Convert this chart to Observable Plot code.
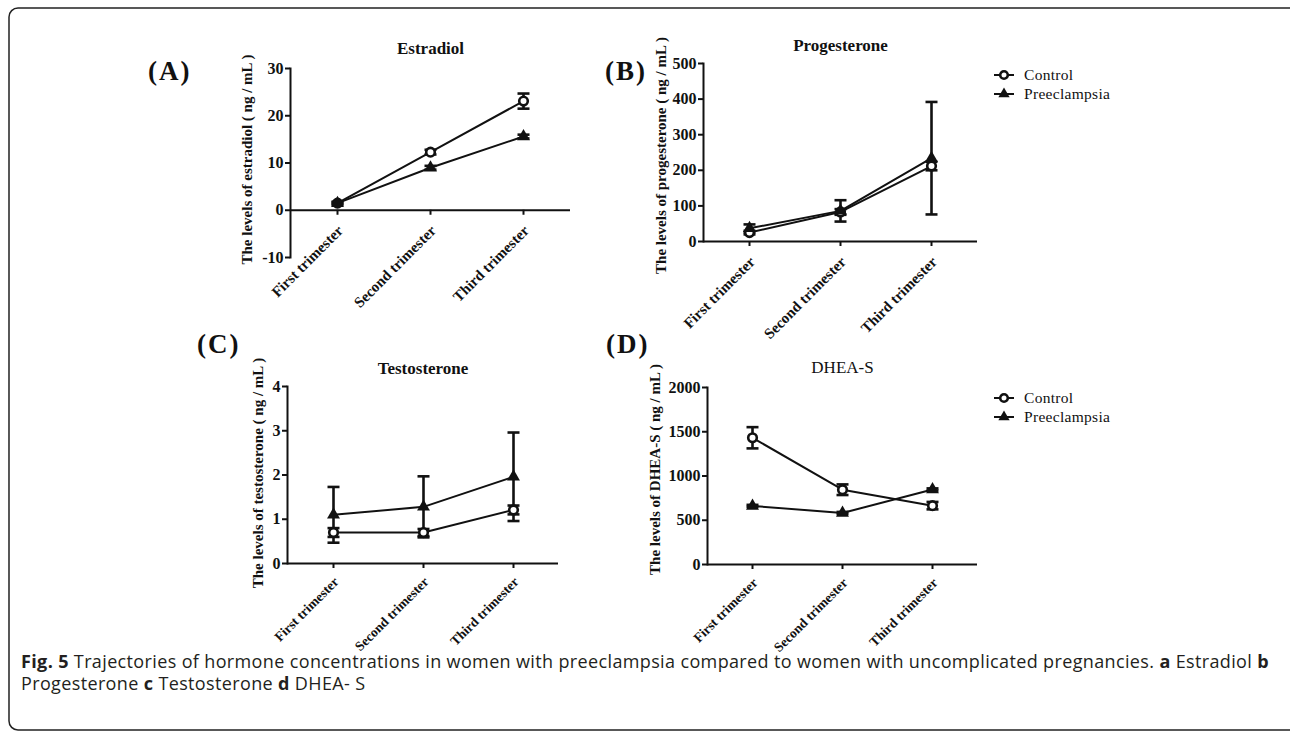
<!DOCTYPE html>
<html>
<head>
<meta charset="utf-8">
<script src="https://cdn.jsdelivr.net/npm/d3@7"></script>
<script src="https://cdn.jsdelivr.net/npm/@observablehq/plot@0.6"></script>
<style>
  html, body { margin: 0; padding: 0; background: #fff; }
  #root { position: relative; width: 1290px; height: 732px; overflow: hidden; background: #fff; }
  #root svg.panel { position: absolute; }
  #overlay { position: absolute; left: 0; top: 0; }
</style>
</head>
<body>
<div id="root"></div>
<script>
// ---------- data ----------
const categories = ["First trimester", "Second trimester", "Third trimester"];
const groups = ["Control", "Preeclampsia"];

const estradiolControl = [1.5, 12.3, 23.1];
const estradiolControlErr = [0.3, 0.5, 1.6];
const estradiolPre = [1.5, 9.0, 15.6];
const estradiolPreErr = [0.2, 0.4, 0.4];
const estradiolTicks = [-10, 0, 10, 20, 30];

const progesteroneControl = [25, 83, 212];
const progesteroneControlErr = [5, 8, 12];
const progesteronePre = [37, 86, 234];
const progesteronePreErr = [11, 30, 158];
const progesteroneTicks = [0, 100, 200, 300, 400, 500];

const testosteroneControl = [0.70, 0.70, 1.21];
const testosteroneControlErr = [0.1, 0.08, 0.1];
const testosteronePre = [1.10, 1.28, 1.96];
const testosteronePreErr = [0.63, 0.69, 1.0];
const testosteroneTicks = [0, 1, 2, 3, 4];

const dheasControl = [1432, 845, 665];
const dheasControlErr = [120, 60, 42];
const dheasPre = [662, 582, 848];
const dheasPreErr = [12, 12, 12];
const dheasTicks = [0, 500, 1000, 1500, 2000];

const panelTitles = ["Estradiol", "Progesterone", "Testosterone", "DHEA-S"];
const panelLetters = ["(A)", "(B)", "(C)", "(D)"];
const yLabels = [
  "The levels of estradiol ( ng / mL )",
  "The levels of progesterone ( ng / mL )",
  "The levels of testosterone ( ng / mL )",
  "The levels of DHEA-S ( ng / mL )"
];

// ---------- layout ----------
const SERIF = "'Liberation Serif', 'Times New Roman', serif";
const INK = "#111";
const ML = 120, MT = 40, MR = 30, MB = 120;

function rowsOf(ctrl, ctrlErr, pre, preErr) {
  const rows = [];
  categories.forEach((c, i) => {
    rows.push({cat: c, group: groups[0], mean: ctrl[i], err: ctrlErr[i]});
    rows.push({cat: c, group: groups[1], mean: pre[i], err: preErr[i]});
  });
  return rows;
}

const panels = [
  {rows: rowsOf(estradiolControl, estradiolControlErr, estradiolPre, estradiolPreErr), ticks: estradiolTicks,
   title: panelTitles[0], titleWeight: "bold", ylabel: yLabels[0], xFont: 15, xDy: 18,
   frame: {left: 290, right: 570, top: 68, bottom: 257}, labelOffset: 43, labelDy: -3.5, titleDy: -20},
  {rows: rowsOf(progesteroneControl, progesteroneControlErr, progesteronePre, progesteronePreErr), ticks: progesteroneTicks,
   title: panelTitles[1], titleWeight: "bold", ylabel: yLabels[1], xFont: 15, xDy: 18,
   frame: {left: 703, right: 977, top: 63, bottom: 241}, labelOffset: 42, labelDy: 3, titleDy: -18},
  {rows: rowsOf(testosteroneControl, testosteroneControlErr, testosteronePre, testosteronePreErr), ticks: testosteroneTicks,
   title: panelTitles[2], titleWeight: "bold", ylabel: yLabels[2], xFont: 13.5, xDy: 16,
   frame: {left: 287, right: 558, top: 386, bottom: 563}, labelOffset: 29, labelDy: -2, titleDy: -18},
  {rows: rowsOf(dheasControl, dheasControlErr, dheasPre, dheasPreErr), ticks: dheasTicks,
   title: panelTitles[3], titleWeight: "normal", ylabel: yLabels[3], xFont: 13.5, xDy: 16,
   frame: {left: 707, right: 977, top: 387, bottom: 564}, labelOffset: 52, labelDy: -6.5, titleDy: -20}
];

const root = document.getElementById("root");

// background overlay (border, panel letters, legends, caption)
const W = 1290, H = 732;
const ov = d3.select(root).append("svg").attr("id", "overlay").attr("width", W).attr("height", H);
ov.append("rect").attr("x", 9).attr("y", 8).attr("width", 1300).attr("height", 722)
  .attr("rx", 9).attr("fill", "none").attr("stroke", "#222").attr("stroke-width", 1.5);

const letterPos = [[148, 80], [605, 80], [197, 353], [606, 353]];
panelLetters.forEach((t, i) => {
  ov.append("text").attr("x", letterPos[i][0]).attr("y", letterPos[i][1])
    .attr("font-family", SERIF).attr("font-weight", "bold").attr("font-size", 27)
    .attr("letter-spacing", 2).attr("fill", INK).text(t);
});

function legend(x, y) {
  const g = ov.append("g").attr("transform", `translate(${x},${y})`);
  groups.forEach((name, i) => {
    const gy = i * 19;
    g.append("line").attr("x1", 0).attr("x2", 20).attr("y1", gy).attr("y2", gy).attr("stroke", INK).attr("stroke-width", 2);
    if (i === 0) {
      g.append("circle").attr("cx", 10).attr("cy", gy).attr("r", 3.8).attr("fill", "#fff").attr("stroke", INK).attr("stroke-width", 2.6);
    } else {
      g.append("path").attr("d", d3.symbol(d3.symbolTriangle, 55)()).attr("transform", `translate(10,${gy})`).attr("fill", INK);
    }
    g.append("text").attr("x", 30).attr("y", gy).attr("dy", "0.35em").attr("font-family", SERIF)
      .attr("font-size", 15.5).attr("letter-spacing", 0.3).attr("fill", INK).text(name);
  });
}
legend(994, 75);
legend(994, 398);

// caption
const capFont = "'Open Sans', 'Noto Sans', sans-serif";
const line1 = [["Fig. 5", true], [" Trajectories of hormone concentrations in women with preeclampsia compared to women with uncomplicated pregnancies. ", false], ["a", true], [" Estradiol ", false], ["b", true]];
const line2 = [["Progesterone ", false], ["c", true], [" Testosterone ", false], ["d", true], [" DHEA- S", false]];
function capLine(parts, y) {
  const t = ov.append("text").attr("x", 21).attr("y", y).attr("font-family", capFont).attr("font-size", 18).attr("fill", "#231f20");
  parts.forEach(([s, b]) => t.append("tspan").attr("font-weight", b ? "bold" : "normal").text(s));
  return t;
}
const c1 = capLine(line1, 668);
const c2 = capLine(line2, 690);
const targetW = 1248;
const w1 = c1.node().getComputedTextLength();
const n1 = line1.map(p => p[0]).join("").length;
const ls = (targetW - w1) / n1;
c1.attr("letter-spacing", ls);
c2.attr("letter-spacing", ls);

// custom horizontal cap symbol for error bars
const capSymbol = {draw(ctx) { ctx.moveTo(-6, 0); ctx.lineTo(6, 0); }};

// ---------- panels ----------
panels.forEach(p => {
  const f = p.frame;
  const fw = f.right - f.left, fh = f.bottom - f.top;
  const ctrl = p.rows.filter(d => d.group === groups[0]);
  const pre = p.rows.filter(d => d.group === groups[1]);
  const svg = Plot.plot({
    width: fw + ML + MR,
    height: fh + MT + MB,
    marginLeft: ML, marginRight: MR, marginTop: MT, marginBottom: MB,
    x: {type: "point", domain: categories, padding: 0.5, axis: null},
    y: {domain: [p.ticks[0], p.ticks[p.ticks.length - 1]], axis: null},
    style: {background: "none", overflow: "visible", fontFamily: SERIF, color: INK},
    marks: [
      Plot.frame({anchor: "left", stroke: INK, strokeWidth: 2}),
      Plot.ruleY([0], {stroke: INK, strokeWidth: 2}),
      Plot.axisY({ticks: p.ticks, tickFormat: d => String(d), tickSize: 5, tickPadding: 2,
        fontSize: 16, fontWeight: "bold", letterSpacing: 0.8, stroke: INK, strokeWidth: 2, label: null, fill: INK}),
      Plot.ruleX(categories, {x: d => d, y1: 0, y2: 0, insetBottom: -5, stroke: INK, strokeWidth: 2}),
      Plot.text(categories, {x: d => d, y: 0, text: d => d, rotate: -45, textAnchor: "end", lineAnchor: "middle",
        dx: 3, dy: p.xDy, fontSize: p.xFont, fontWeight: "bold", letterSpacing: 0.2, fill: INK}),
      Plot.text([p.ylabel], {frameAnchor: "left", text: d => d, rotate: -90, textAnchor: "middle", lineAnchor: "middle",
        dx: -p.labelOffset, dy: p.labelDy, fontSize: 15, fontWeight: "bold", letterSpacing: 0.3, fill: INK}),
      Plot.text([p.title], {frameAnchor: "top", text: d => d, lineAnchor: "middle", dy: p.titleDy,
        fontSize: 17, fontWeight: p.titleWeight, fill: INK}),
      Plot.ruleX(p.rows, {x: "cat", y1: d => d.mean - d.err, y2: d => d.mean + d.err, stroke: INK, strokeWidth: 2.6}),
      Plot.dot(p.rows, {x: "cat", y: d => d.mean - d.err, symbol: capSymbol, fill: "none", stroke: INK, strokeWidth: 2.6}),
      Plot.dot(p.rows, {x: "cat", y: d => d.mean + d.err, symbol: capSymbol, fill: "none", stroke: INK, strokeWidth: 2.6}),
      Plot.line(p.rows, {x: "cat", y: "mean", z: "group", stroke: INK, strokeWidth: 2}),
      Plot.dot(ctrl, {x: "cat", y: "mean", symbol: "circle", r: 4.3, fill: "#fff", stroke: INK, strokeWidth: 2.6}),
      Plot.dot(pre, {x: "cat", y: "mean", symbol: "triangle", r: 4.8, fill: INK, stroke: "none"})
    ]
  });
  svg.classList.add("panel");
  svg.style.left = (f.left - ML) + "px";
  svg.style.top = (f.top - MT) + "px";
  root.appendChild(svg);
});
</script>
</body>
</html>
